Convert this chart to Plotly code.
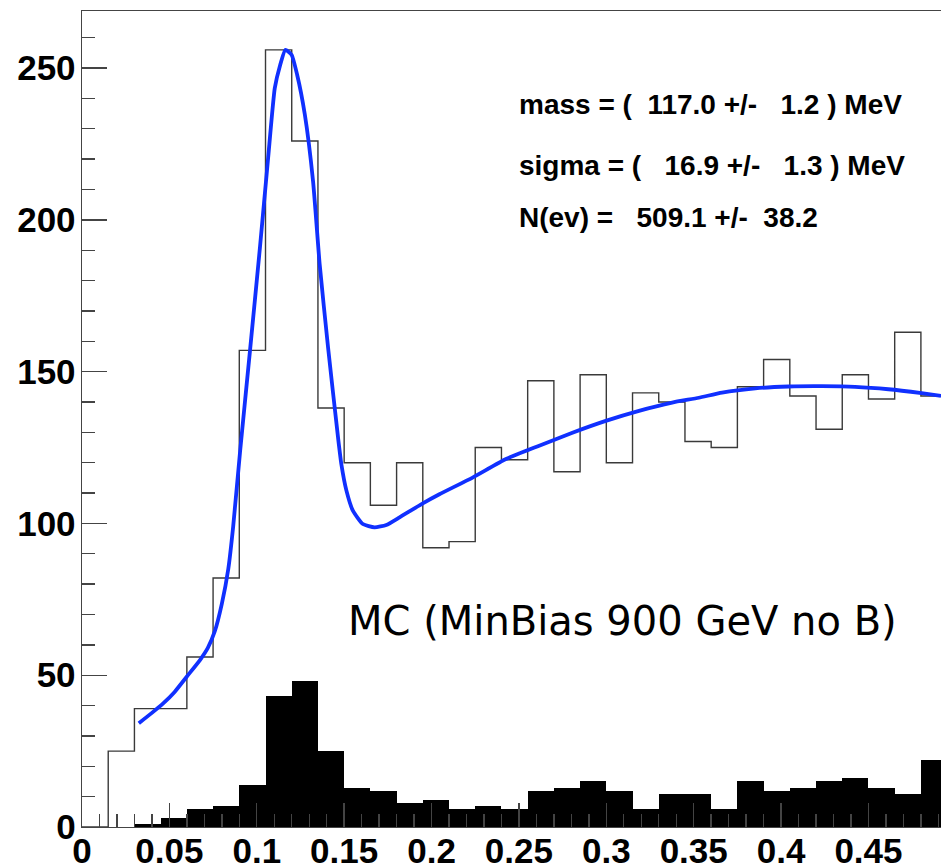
import plotly.graph_objects as go

# ---- data ----
bin_edges = [0.000, 0.015, 0.030, 0.045, 0.060, 0.075, 0.090, 0.105, 0.120, 0.135,
             0.150, 0.165, 0.180, 0.195, 0.210, 0.225, 0.240, 0.255, 0.270, 0.285,
             0.300, 0.315, 0.330, 0.345, 0.360, 0.375, 0.390, 0.405, 0.420, 0.435,
             0.450, 0.465, 0.480, 0.495]

open_counts = [0, 25, 39, 39, 56, 82, 157, 256, 226, 138,
               120, 106, 120, 92, 94, 125, 121, 147, 117, 149,
               120, 143, 140, 127, 125, 145, 154, 142, 131, 149,
               141, 163, 142]

filled_counts = [0, 0, 1, 3, 6, 7, 14, 43, 48, 25,
                 13, 12, 8, 9, 6, 7, 6, 12, 13, 15,
                 12, 6, 11, 11, 6, 15, 12, 13, 15, 16,
                 13, 11, 22]

fit_x = [0.0325, 0.0400, 0.0466, 0.0530, 0.0599, 0.0675, 0.0720, 0.0760, 0.0800,
         0.0837, 0.0865, 0.0905, 0.0961, 0.1018, 0.1065, 0.1103, 0.1132, 0.1164,
         0.1199, 0.1231, 0.1275, 0.1322, 0.1360, 0.1408, 0.1465, 0.1484, 0.1513,
         0.1550, 0.1607, 0.1674, 0.1741, 0.1817, 0.1950, 0.2045, 0.2235, 0.2426,
         0.2616, 0.2806, 0.2997, 0.3187, 0.3377, 0.3529, 0.3662, 0.3853, 0.4043,
         0.4233, 0.4423, 0.4614, 0.4804, 0.4915]
fit_y = [34.2, 37.6, 40.8, 44.5, 49.5, 55.0, 59.0, 64.5, 73.5,
         85.0, 99.0, 124.0, 156.8, 190.8, 220.4, 243.4, 250.6, 256.0,
         254.4, 247.8, 234.7, 212.7, 185.3, 157.9, 128.3, 119.5, 110.8,
         104.2, 99.8, 98.7, 99.5, 102.0, 106.6, 109.6, 115.1, 121.2,
         125.6, 129.9, 133.8, 137.1, 139.8, 141.4, 143.1, 144.5, 145.1,
         145.2, 145.0, 144.2, 142.9, 142.0]

x_tick_vals = [0, 0.05, 0.1, 0.15, 0.2, 0.25, 0.3, 0.35, 0.4, 0.45]
x_tick_text = ["0", "0.05", "0.1", "0.15", "0.2", "0.25", "0.3", "0.35", "0.4", "0.45"]
y_tick_vals = [0, 50, 100, 150, 200, 250]
y_tick_text = ["0", "50", "100", "150", "200", "250"]

fit_lines = [
    "mass = (  117.0 +/-   1.2 ) MeV",
    "sigma = (   16.9 +/-   1.3 ) MeV",
    "N(ev) =   509.1 +/-  38.2",
]
label_text = "MC (MinBias 900 GeV no B)"

# ---- figure ----
centers = [(bin_edges[i] + bin_edges[i + 1]) / 2 for i in range(len(filled_counts))]
widths = [bin_edges[i + 1] - bin_edges[i] for i in range(len(filled_counts))]

fig = go.Figure()

fig.add_trace(go.Bar(
    x=centers, y=filled_counts, width=widths,
    marker=dict(color="black", line=dict(width=0)),
    hoverinfo="skip",
))

fig.add_trace(go.Scatter(
    x=bin_edges, y=open_counts + [open_counts[-1]],
    mode="lines", line=dict(shape="hv", color="#3a3a3a", width=1.4),
    hoverinfo="skip",
))

fig.add_trace(go.Scatter(
    x=fit_x, y=fit_y, mode="lines",
    line=dict(color="#1030ff", width=3.8, shape="spline", smoothing=0.5),
    hoverinfo="skip",
))

tick_font = dict(family="Liberation Sans, Arial, sans-serif", size=35, color="black", weight="bold")
frame_col = "#444444"

fig.update_layout(
    width=941, height=865,
    margin=dict(l=82, r=0, t=11, b=38, autoexpand=False),
    paper_bgcolor="white", plot_bgcolor="white",
    showlegend=False, bargap=0,
    xaxis=dict(
        range=[0, 0.4915], tickmode="array", tickvals=x_tick_vals, ticktext=x_tick_text,
        ticks="inside", ticklen=24, tickwidth=1.4, tickcolor=frame_col,
        minor=dict(ticks="inside", ticklen=13, tickwidth=1.4, tickcolor=frame_col,
                   tickmode="linear", tick0=0, dtick=0.01, showgrid=False),
        showline=True, linecolor=frame_col, linewidth=1.4, mirror=True,
        showgrid=False, zeroline=False, tickfont=tick_font, ticklabelstandoff=-7,
        automargin=False,
    ),
    yaxis=dict(
        range=[0, 268.8], tickmode="array", tickvals=y_tick_vals, ticktext=y_tick_text,
        ticks="inside", ticklen=25, tickwidth=1.4, tickcolor=frame_col,
        minor=dict(ticks="inside", ticklen=13, tickwidth=1.4, tickcolor=frame_col,
                   tickmode="linear", tick0=0, dtick=10, showgrid=False),
        showline=True, linecolor=frame_col, linewidth=1.4, mirror=False,
        showgrid=False, zeroline=False, tickfont=tick_font, ticklabelstandoff=-2,
        automargin=False,
    ),
)

text_font = dict(family="Liberation Sans, Arial, sans-serif", size=28, color="black", weight="bold")
line_y = [0.8857, 0.8109, 0.7471]
for t, yy in zip(fit_lines, line_y):
    fig.add_annotation(
        text=t.replace(" ", "\u00a0"), xref="paper", yref="paper",
        x=0.506, y=yy, xanchor="left", yanchor="middle",
        showarrow=False, font=text_font,
    )

fig.add_annotation(
    text=label_text, xref="paper", yref="paper",
    x=0.3070, y=0.252, xanchor="left", yanchor="middle", showarrow=False,
    font=dict(family="DejaVu Sans, sans-serif", size=40, color="black"),
)

# remove the default page margin so the figure fills the window exactly
fig.write_html(
    "out.html",
    config={"displayModeBar": False, "staticPlot": True},
    post_script="document.body.style.margin='0';document.body.style.overflow='hidden';",
)
